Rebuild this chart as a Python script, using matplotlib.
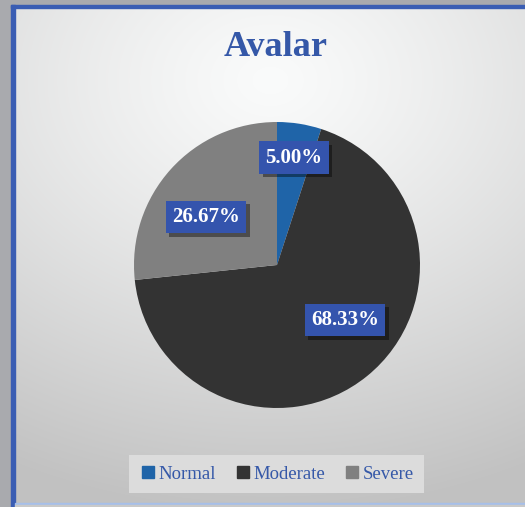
import matplotlib.pyplot as plt
import matplotlib.patheffects as pe
import numpy as np
from matplotlib.patches import Rectangle

# data
categories = ['Normal', 'Moderate', 'Severe']
shares = [5.00, 68.33, 26.67]
pct_labels = ['5.00%', '68.33%', '26.67%']
colors = ['#1f64a8', '#333333', '#808080']

# label placement (fraction of radius, angle tweak in degrees)
lab_r = [0.76, 0.61, 0.60]
lab_tweak = [0, 12, 8]

W, H = 525, 507
fig = plt.figure(figsize=(W / 100, H / 100), dpi=100)

# radial gradient background
bg = fig.add_axes([0, 0, 1, 1])
yy, xx = np.mgrid[0:H, 0:W]
d = np.sqrt(((xx - 270) / 560) ** 2 + ((yy - 80) / 430) ** 2)
d = np.clip(d, 0, 1) ** 1.2
c0 = np.array([0.98, 0.984, 0.984])
c1 = np.array([0.76, 0.76, 0.76])
img = c0[None, None, :] * (1 - d[..., None]) + c1[None, None, :] * d[..., None]
bg.imshow(img, extent=[0, W, H, 0], aspect='auto')
bg.set_xlim(0, W)
bg.set_ylim(H, 0)
bg.axis('off')

# frame
bg.add_patch(Rectangle((0, 0), 11, H, color='#a9aaae', zorder=3))
bg.add_patch(Rectangle((0, 0), W, 4.5, color='#a9aaae', zorder=3))
bg.add_patch(Rectangle((11, 4.5), 3.5, H, color='#3a5db3', zorder=4))
bg.add_patch(Rectangle((11, 4.5), W, 3.5, color='#3a5db3', zorder=4))
bg.add_patch(Rectangle((14.5, 502.5), W, 2.5, color='#a6bfe9', zorder=4))
bg.add_patch(Rectangle((14.5, 505), W, 3, color='#c9c9c9', zorder=4))

fig.text(0.525, 1 - 48 / H, 'Avalar', ha='center', va='center', fontsize=26,
         fontweight='bold', family='Liberation Serif', color='#3558a8')

# pie
cx, cy, r = 277, 265, 143
ax = fig.add_axes([(cx - r) / W, 1 - (cy + r) / H, 2 * r / W, 2 * r / H])
wedges, _ = ax.pie(shares, colors=colors, startangle=90, counterclock=False,
                   radius=1, wedgeprops=dict(linewidth=0))
ax.set_xlim(-1, 1)
ax.set_ylim(-1, 1)
ax.set_aspect('auto')

for w, lab, rf, tw in zip(wedges, pct_labels, lab_r, lab_tweak):
    ang = np.deg2rad((w.theta1 + w.theta2) / 2 + tw)
    t = ax.text(rf * np.cos(ang), rf * np.sin(ang), lab, ha='center', va='center',
                fontsize=15, fontweight='semibold', family='Liberation Serif', color='white',
                bbox=dict(boxstyle='square,pad=0.3', fc='#3454ad', ec='none'))
    t.get_bbox_patch().set_path_effects(
        [pe.withSimplePatchShadow(offset=(2.5, -2.5), shadow_rgbFace='black', alpha=0.4)])

handles = [plt.Line2D([], [], marker='s', linestyle='none', markersize=8,
                      color=c) for c in colors]
leg = fig.legend(handles, categories, loc='center', bbox_to_anchor=(0.527, 1 - 474 / H),
                 ncol=3, frameon=True, fancybox=False, handletextpad=0.1,
                 columnspacing=1.0, handlelength=0.9, borderpad=0.55,
                 prop={'family': 'Liberation Serif', 'size': 13.5})
leg.get_frame().set_facecolor('#dcdcdc')
leg.get_frame().set_edgecolor('none')
leg.get_frame().set_alpha(1)
for txt in leg.get_texts():
    txt.set_color('#3558a8')

fig.savefig('out.png', dpi=100)
